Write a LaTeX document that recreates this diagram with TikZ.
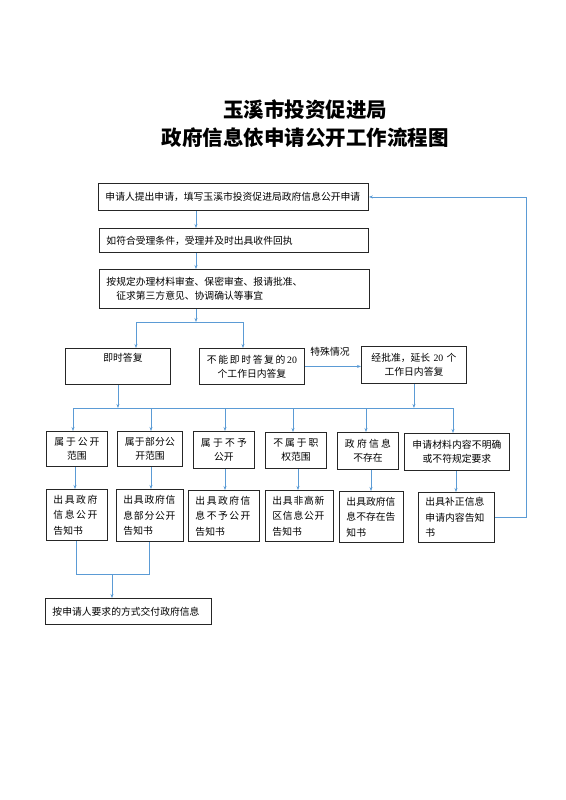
\documentclass[tikz,border=0pt]{standalone}
\usepackage{fontspec}
\setmainfont{Noto Sans CJK SC}
\newfontfamily\lat{Liberation Serif}
\usetikzlibrary{arrows.meta}
\definecolor{linkblue}{RGB}{91,155,213}
\newcommand\spreadline[2]{\makebox[#1][s]{\spaceskip=0pt plus 1fil\xspaceskip=0pt plus 1fil\relax #2}}
\tikzset{
  box/.style={draw=black!85, line width=0.9pt, anchor=north west, inner xsep=7pt, inner ysep=2pt, font=\fontsize{9.8}{14}\selectfont},
  note/.style={box, align=left, font=\fontsize{9.8}{15.5}\selectfont},
  link/.style={draw=linkblue, line width=0.8pt},
  flow/.style={link, -{Stealth[length=4pt,width=3pt]}},
}
\begin{document}
\begin{tikzpicture}[x=1pt,y=-1pt]
\useasboundingbox (0,0) rectangle (565,800);
\node[font=\fontsize{20.5}{28}\selectfont\bfseries, align=center] (title) at (305,124) {玉溪市投资促进局\\政府信息依申请公开工作流程图};

\node[box, text width=256pt, minimum height=27pt, align=left] (apply) at (98,183) {申请人提出申请，填写玉溪市投资促进局政府信息公开申请};
\node[box, text width=255pt, minimum height=24pt, align=left] (accept) at (99,228) {如符合受理条件，受理并及时出具收件回执};
\node[box, text width=256pt, minimum height=39pt, align=left] (review) at (99,269) {按规定办理材料审查、保密审查、报请批准、\\\hspace*{1em}征求第三方意见、协调确认等事宜};

\node[box, text width=91pt, minimum height=36pt, align=center] (reply) at (65,348) {\hspace*{10pt}即时答复\\\strut};
\node[box, text width=91pt, minimum height=36pt, align=center] (delay) at (199,348) {\spreadline{90pt}{不 能 即 时 答 复 的 {\lat 20}}\\个工作日内答复};
\node[box, text width=91pt, minimum height=37pt, align=center] (extend) at (361,346) {经批准，延长 {\lat 20} 个\\工作日内答复};
\node[font=\fontsize{9.8}{14}\selectfont] (special) at (330,352) {特殊情况};

\node[box, text width=47pt, minimum height=35pt, align=center] (open) at (46,431) {\spreadline{45pt}{属 于 公 开}\\范围};
\node[box, text width=51pt, minimum height=35pt, align=center] (part) at (117,431) {\spreadline{50pt}{属 于 部 分 公}\\开范围};
\node[box, text width=47pt, minimum height=37pt, align=center] (deny) at (193,431) {\spreadline{46pt}{属 于 不 予}\\公开};
\node[box, text width=47pt, minimum height=36pt, align=center] (outside) at (265,432) {\spreadline{45pt}{不 属 于 职}\\权范围};
\node[box, text width=47pt, minimum height=37pt, align=center] (absent) at (337,432) {\spreadline{46pt}{政 府 信 息}\\不存在};
\node[box, text width=91pt, minimum height=37pt, align=center] (unclear) at (404,433) {\spreadline{89pt}{申 请 材 料 内 容 不 明 确}\\或不符规定要求};

\node[note, text width=47pt, minimum height=51pt] (opennote) at (46,489) {\spreadline{44pt}{出 具 政 府}\\\spreadline{44pt}{信 息 公 开}\\告知书};
\node[note, text width=53pt, minimum height=52pt] (partnote) at (116,489) {\spreadline{52pt}{出 具 政 府 信}\\\spreadline{52pt}{息 部 分 公 开}\\告知书};
\node[note, text width=57pt, minimum height=51pt] (denynote) at (188,490) {\spreadline{55pt}{出 具 政 府 信}\\\spreadline{55pt}{息 不 予 公 开}\\告知书};
\node[note, text width=54pt, minimum height=51pt] (outsidenote) at (265,490) {\spreadline{52pt}{出 具 非 高 新}\\\spreadline{52pt}{区 信 息 公 开}\\告知书};
\node[note, text width=50pt, minimum height=51pt] (absentnote) at (339,491) {\spreadline{49pt}{出 具 政 府 信}\\\spreadline{49pt}{息 不 存 在 告}\\知书};
\node[note, text width=62pt, minimum height=50pt] (unclearnote) at (418,492) {\spreadline{59pt}{出 具 补 正 信 息}\\\spreadline{59pt}{申 请 内 容 告 知}\\书};

\node[box, text width=152pt, minimum height=26pt, align=left] (deliver) at (45,598) {按申请人要求的方式交付政府信息};

\coordinate (spine) at (196,0);
\coordinate (fork1) at (196,322);
\coordinate (fork1l) at (136,322);
\coordinate (fork1r) at (243,322);
\coordinate (fork2l) at (73,408);
\coordinate (fork2r) at (453,408);
\coordinate (back) at (526,0);
\coordinate (joinl) at (76,574);
\coordinate (joinr) at (149,574);
\coordinate (join) at (112,574);

\draw[flow] (apply.south -| spine) -- (accept.north -| spine);
\draw[flow] (accept.south -| spine) -- (review.north -| spine);
\draw[flow] (review.south -| spine) -- (fork1);
\draw[link] (fork1l) -- (fork1r);
\draw[flow] (fork1l) -- (reply.north -| fork1l);
\draw[flow] (fork1r) -- (delay.north -| fork1r);
\draw[flow] (delay.east) -- (delay.east -| extend.west);

\draw[flow] (reply.south) -- (reply.south |- fork2l);
\draw[flow] (extend.south) -- (extend.south |- fork2l);
\draw[link] (fork2l) -- (fork2r);
\foreach \x/\n in {73/open, 151/part, 225/deny, 293/outside, 366/absent, 453/unclear}
  \draw[flow] (\x,408) -- (\n.north -| \x,0);
\foreach \x/\n in {75/open, 151/part, 225/deny, 298/outside, 371/absent, 456/unclear}
  \draw[flow] (\n.south -| \x,0) -- (\n note.north -| \x,0);

\draw[flow] (unclearnote.east) -- (unclearnote.east -| back) -- (apply.east -| back) -- (apply.east);
\draw[link] (opennote.south -| joinl) -- (joinl) -- (joinr) -- (partnote.south -| joinr);
\draw[flow] (join) -- (deliver.north -| join);
\end{tikzpicture}
\end{document}
